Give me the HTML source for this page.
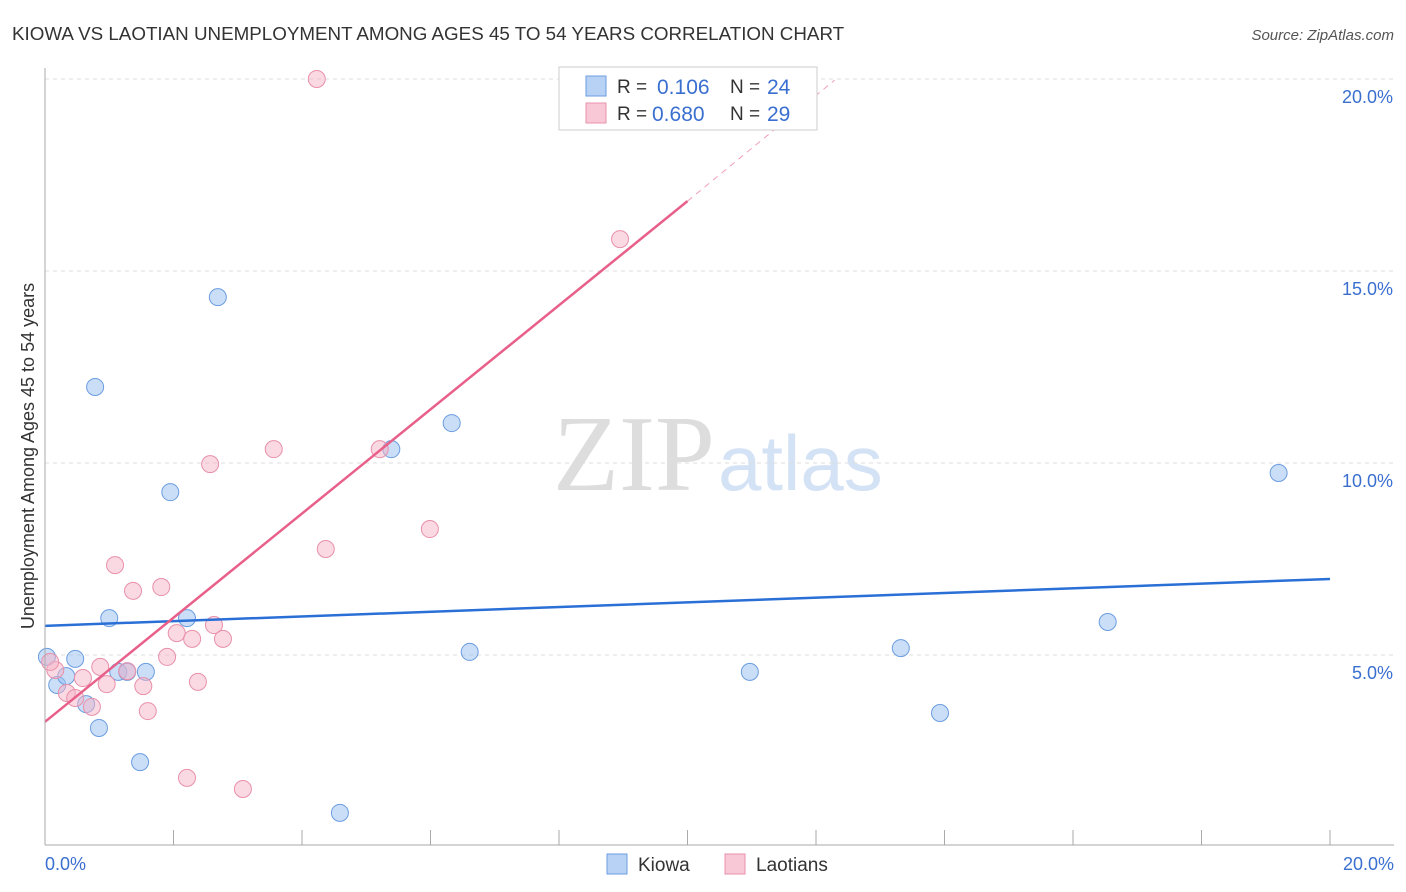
<!DOCTYPE html>
<html><head><meta charset="utf-8"><style>
body{margin:0;background:#fff;font-family:"Liberation Sans",sans-serif}
svg{display:block}
</style></head><body>
<svg width="1406" height="892" id="c">
<text x="12" y="40" font-size="18.8" fill="#333">KIOWA VS LAOTIAN UNEMPLOYMENT AMONG AGES 45 TO 54 YEARS CORRELATION CHART</text>
<text x="1394" y="40" font-size="15" fill="#555" font-style="italic" text-anchor="end">Source: ZipAtlas.com</text>
<text x="715" y="490" font-size="108" fill="#ddd" font-family="Liberation Serif" text-anchor="end">ZIP</text>
<text x="718" y="490" font-size="78" fill="#d4e2f5">atlas</text>
<text transform="translate(34,456) rotate(-90)" font-size="18" fill="#333" text-anchor="middle">Unemployment Among Ages 45 to 54 years</text>
<g id="grid"></g><g id="pts"></g><g id="lines"></g>
<line x1="45" y1="68" x2="45" y2="845" stroke="#aaa"/>
<line x1="45" y1="845" x2="1394" y2="845" stroke="#aaa"/>
<text x="45" y="870" font-size="18" fill="#3a6fd0">0.0%</text>
<text x="1394" y="870" font-size="18" fill="#3a6fd0" text-anchor="end">20.0%</text>
<g>
<rect x="559" y="67" width="258" height="63" fill="#fff" stroke="#ccc"/>
<rect x="586" y="76" width="20" height="20" fill="#b8d2f5" stroke="#6b9de0"/>
<rect x="586" y="103" width="20" height="20" fill="#f8c8d6" stroke="#e890aa"/>
<text x="617" y="93" font-size="19" fill="#333">R = </text><text x="657" y="94" font-size="21" fill="#3a6fd0">0.106</text>
<text x="730" y="93" font-size="19" fill="#333">N = </text><text x="767" y="94" font-size="21" fill="#3a6fd0">24</text>
<text x="617" y="120" font-size="19" fill="#333">R = </text><text x="652" y="121" font-size="21" fill="#3a6fd0">0.680</text>
<text x="730" y="120" font-size="19" fill="#333">N = </text><text x="767" y="121" font-size="21" fill="#3a6fd0">29</text>
</g>
<g>
<rect x="607" y="854" width="20" height="20" fill="#b8d2f5" stroke="#6b9de0"/>
<text x="638" y="871" font-size="19" fill="#333">Kiowa</text>
<rect x="725" y="854" width="20" height="20" fill="#f8c8d6" stroke="#e890aa"/>
<text x="756" y="871" font-size="19" fill="#333">Laotians</text>
</g>
</svg>
<script>
const kiowaX=[0.03,0.19,0.33,0.47,0.64,0.78,0.84,1.00,1.14,1.28,1.48,1.57,1.95,2.21,2.69,4.59,5.39,6.33,6.61,10.97,13.32,13.93,16.54,19.20];
const kiowaY=[4.95,4.22,4.45,4.90,3.72,11.98,3.10,5.96,4.56,4.56,2.21,4.56,9.24,5.96,14.32,0.89,10.36,11.04,5.08,4.56,5.18,3.49,5.86,9.74];
const laoX=[1.09,1.37,1.81,2.05,2.29,2.63,2.77,1.90,0.86,0.59,0.96,1.53,2.38,1.60,2.21,3.08,0.16,0.08,0.34,0.47,0.73,1.28,4.23,2.57,3.56,4.37,5.21,5.99,8.95];
const laoY=[7.34,6.67,6.77,5.57,5.42,5.78,5.42,4.95,4.69,4.40,4.24,4.19,4.30,3.54,1.80,1.51,4.61,4.82,4.01,3.88,3.65,4.58,20.0,9.97,10.36,7.76,10.36,8.28,15.83];
const yTicks=[5,10,15,20];
const yTickLabels=["5.0%","10.0%","15.0%","20.0%"];
const xTicks=[0,2,4,6,8,10,12,14,16,18,20];
const kiowaTrend=[[0,5.76],[20,6.98]];
const laoTrend=[[0,3.26],[10,16.82],[12.29,19.97]];
const NS="http://www.w3.org/2000/svg";
const sx=v=>45+v*1285/20, sy=v=>847-v*38.4;
function mk(t,a,p){const e=document.createElementNS(NS,t);for(const k in a)e.setAttribute(k,a[k]);p.appendChild(e);return e;}
const grid=document.getElementById('grid'),svg=document.getElementById('c');
yTicks.forEach((v,i)=>{
 const l=mk('line',{x1:45,x2:1394,y1:sy(v),y2:sy(v),stroke:'#ddd','stroke-dasharray':'4 4'},grid);
 
 
 const t=mk('text',{x:1393,y:sy(v)+24,'font-size':18,fill:'#3a6fd0','text-anchor':'end'},svg);
 t.textContent=yTickLabels[i];
 
 
});
xTicks.forEach(v=>{
 const l=mk('line',{x1:sx(v),x2:sx(v),y1:830,y2:845,stroke:'#aaa'},grid);
 
 
});
const pts=document.getElementById('pts');
kiowaX.forEach((x,i)=>{
 const c=mk('circle',{cx:sx(x),cy:sy(kiowaY[i]),r:8.5,fill:'rgba(150,190,240,0.5)',stroke:'#6b9de0','stroke-width':1},pts);
 
 
});
laoX.forEach((x,i)=>{
 const c=mk('circle',{cx:sx(x),cy:sy(laoY[i]),r:8.5,fill:'rgba(245,180,200,0.5)',stroke:'#e890aa','stroke-width':1},pts);
 
 
});
const lines=document.getElementById('lines');
const kl=mk('line',{x1:sx(kiowaTrend[0][0]),y1:sy(kiowaTrend[0][1]),x2:sx(kiowaTrend[1][0]),y2:sy(kiowaTrend[1][1]),stroke:'#2a6fd6','stroke-width':2.5},lines);


const ll=mk('line',{x1:sx(laoTrend[0][0]),y1:sy(laoTrend[0][1]),x2:sx(laoTrend[1][0]),y2:sy(laoTrend[1][1]),stroke:'#e8608a','stroke-width':2.5},lines);


const ld=mk('line',{x1:sx(laoTrend[1][0]),y1:sy(laoTrend[1][1]),x2:sx(laoTrend[2][0]),y2:sy(laoTrend[2][1]),stroke:'#f0a0b8','stroke-width':1,'stroke-dasharray':'6 5'},lines);


</script>
</body></html>
